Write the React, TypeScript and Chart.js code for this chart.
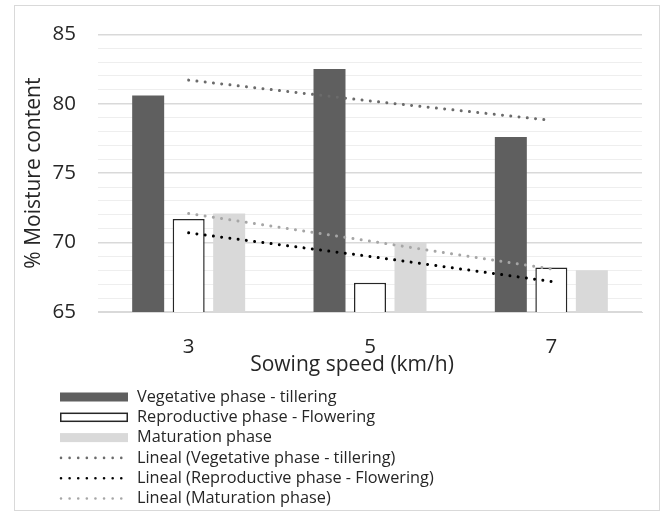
import { useEffect, useRef } from 'react';
import { Chart, registerables } from 'chart.js';

Chart.register(...registerables);

const categories = ['3', '5', '7'];
const vegetative = [80.6, 82.5, 77.6];
const reproductive = [71.7, 67.1, 68.2];
const maturation = [72.1, 70.0, 68.0];
const trendVegetative = [81.7, 80.2, 78.8];
const trendReproductive = [70.7, 69.0, 67.2];
const trendMaturation = [72.1, 70.1, 68.1];
const yMin = 65;
const yMax = 85;
const yLabelStep = 5;
const xTitle = 'Sowing speed (km/h)';
const yTitle = '% Moisture content';

const seriesLabels = [
  'Vegetative phase - tillering',
  'Reproductive phase - Flowering',
  'Maturation phase',
  'Lineal (Vegetative phase - tillering)',
  'Lineal (Reproductive phase - Flowering)',
  'Lineal (Maturation phase)',
];

const FONT = "'Open Sans', 'Noto Sans', sans-serif";
const TEXT = '#262626';

const framePlugin = {
  id: 'frame',
  beforeDraw(chart: any) {
    const ctx = chart.ctx;
    ctx.save();
    ctx.fillStyle = '#ffffff';
    ctx.fillRect(0, 0, chart.width, chart.height);
    ctx.strokeStyle = '#d9d9d9';
    ctx.lineWidth = 1;
    ctx.strokeRect(14.5, 5.5, 645, 505);
    ctx.restore();
  },
};

const xTitlePlugin = {
  id: 'xTitle',
  afterDraw(chart: any) {
    const ctx = chart.ctx;
    ctx.save();
    ctx.font = `21px ${FONT}`;
    ctx.fillStyle = TEXT;
    ctx.textAlign = 'center';
    ctx.textBaseline = 'middle';
    ctx.fillText(xTitle, 352, 365);
    ctx.restore();
  },
};

const legendPlugin = {
  id: 'customLegend',
  afterDraw(chart: any) {
    const ctx = chart.ctx;
    ctx.save();
    const x0 = 60;
    const x1 = 128;
    const tx = 137;
    const y0 = 397;
    const dy = 20.3;
    ctx.font = `16.3px ${FONT}`;
    ctx.textBaseline = 'middle';
    ctx.textAlign = 'left';
    chart.data.datasets.forEach((ds: any, i: number) => {
      const y = y0 + i * dy;
      if (ds.type === 'line') {
        ctx.strokeStyle = ds.borderColor;
        ctx.lineWidth = 2.6;
        ctx.lineCap = 'round';
        ctx.setLineDash([0.01, 8.6]);
        ctx.beginPath();
        ctx.moveTo(x0 + 1, y);
        ctx.lineTo(x1 - 4, y);
        ctx.stroke();
        ctx.setLineDash([]);
      } else {
        ctx.fillStyle = ds.backgroundColor;
        ctx.fillRect(x0, y - 4.5, x1 - x0, 9);
        if (ds.borderWidth) {
          ctx.strokeStyle = ds.borderColor;
          ctx.lineWidth = 1.5;
          ctx.strokeRect(x0 + 0.75, y - 4, x1 - x0 - 1.5, 8);
        }
      }
      ctx.fillStyle = TEXT;
      ctx.fillText(ds.label, tx, y);
    });
    ctx.restore();
  },
};

export default function App() {
  const ref = useRef<HTMLCanvasElement | null>(null);

  useEffect(() => {
    if (!ref.current) return;
    const dotted = {
      type: 'line' as const,
      borderWidth: 3,
      borderDash: [0.01, 8.3],
      borderCapStyle: 'round' as const,
      pointRadius: 0,
      fill: false,
      order: 0,
    };
    const chart = new Chart(ref.current, {
      type: 'bar',
      data: {
        labels: categories,
        datasets: [
          {
            label: seriesLabels[0],
            data: vegetative,
            backgroundColor: '#5f5f5f',
            borderWidth: 0,
            order: 1,
          },
          {
            label: seriesLabels[1],
            data: reproductive,
            backgroundColor: '#ffffff',
            borderColor: '#262626',
            borderWidth: 1.5,
            order: 1,
          },
          {
            label: seriesLabels[2],
            data: maturation,
            backgroundColor: '#d9d9d9',
            borderWidth: 0,
            order: 1,
          },
          { ...dotted, label: seriesLabels[3], data: trendVegetative, borderColor: '#6b6b6b' } as any,
          { ...dotted, label: seriesLabels[4], data: trendReproductive, borderColor: '#000000' } as any,
          { ...dotted, label: seriesLabels[5], data: trendMaturation, borderColor: '#a6a6a6' } as any,
        ],
      },
      options: {
        responsive: false,
        animation: false,
        devicePixelRatio: 1,
        datasets: {
          bar: { categoryPercentage: 0.67, barPercentage: 0.79 },
        },
        layout: { padding: { left: 14, right: 22, top: 31, bottom: 134 } },
        plugins: {
          legend: { display: false },
          tooltip: { enabled: false },
        },
        scales: {
          x: {
            grid: { display: false, drawTicks: false },
            border: { display: true, color: '#d9d9d9' },
            ticks: { color: TEXT, font: { family: FONT, size: 20.5 }, padding: 23 },
            title: { display: false },
            afterFit: (s: any) => {
              s.height = 66;
            },
          },
          y: {
            min: yMin,
            max: yMax,
            border: { display: false },
            grid: {
              drawTicks: false,
              color: (c: any) => (c.tick && c.tick.value % yLabelStep === 0 ? '#d9d9d9' : '#eeeeee'),
              lineWidth: (c: any) => (c.tick && c.tick.value % yLabelStep === 0 ? 1.4 : 1),
            },
            ticks: {
              stepSize: 1,
              autoSkip: false,
              color: TEXT,
              font: { family: FONT, size: 20.5 },
              padding: 22,
              callback: (v: any) => (Number(v) % yLabelStep === 0 ? String(v) : ''),
            },
            title: {
              display: true,
              text: yTitle,
              color: TEXT,
              font: { family: FONT, size: 21 },
              padding: { top: 7, bottom: 0 },
            },
            afterFit: (s: any) => {
              s.width = 84;
            },
          },
        },
      },
      plugins: [framePlugin, xTitlePlugin, legendPlugin],
    });
    return () => chart.destroy();
  }, []);

  return (
    <div style={{ position: 'fixed', left: 0, top: 0, width: 664, height: 512 }}>
      <canvas ref={ref} width={664} height={512} />
    </div>
  );
}
